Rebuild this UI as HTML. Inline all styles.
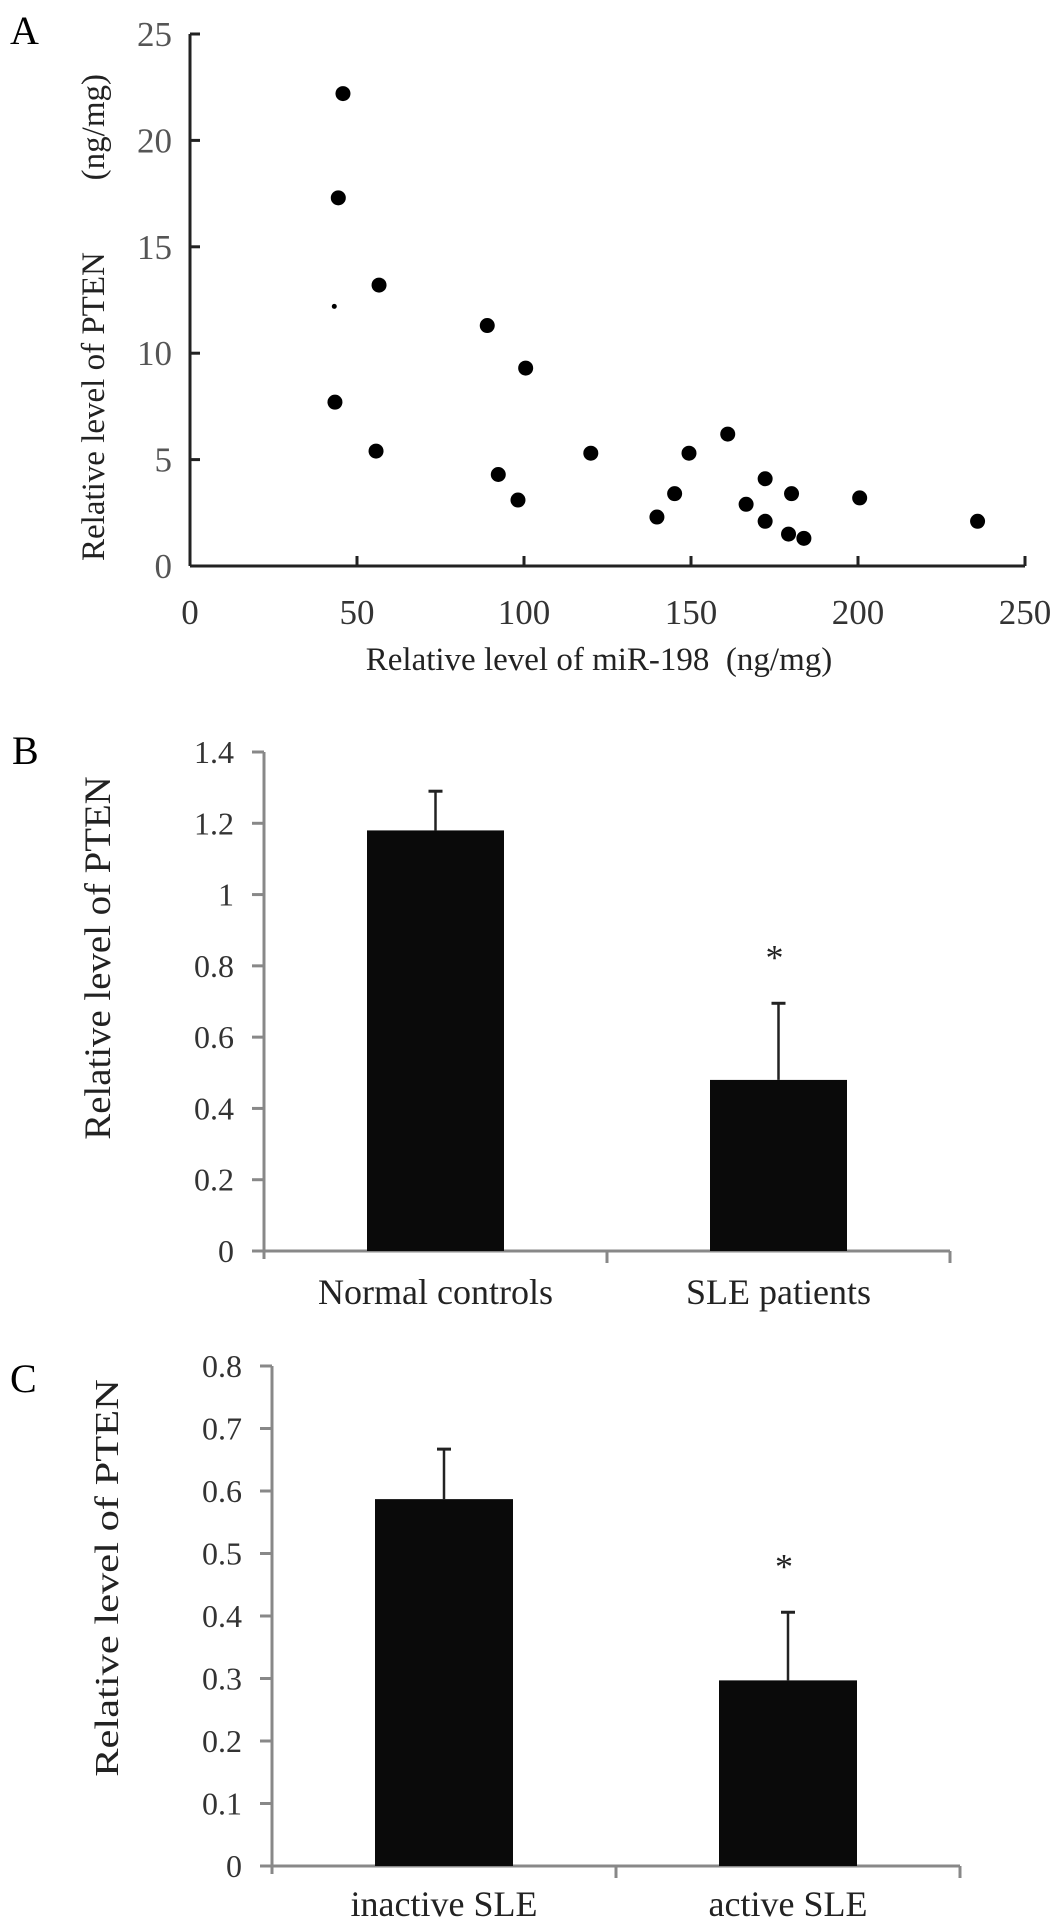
<!DOCTYPE html>
<html><head><meta charset="utf-8"><style>
html,body{margin:0;padding:0;background:#fff;}
svg{display:block;font-family:"Liberation Serif",serif;}
</style></head><body>
<svg id="fig" width="1063" height="1928" viewBox="0 0 1063 1928">
<text x="10" y="44" font-size="40">A</text>
<text x="12" y="764" font-size="40">B</text>
<text x="10" y="1392" font-size="40">C</text>
<g id="gA"></g>
<g id="gB"></g>
<g id="gC"></g>
</svg>
<script>
// Panel A data
const scatterX = [45.8,44.4,56.6,43.4,55.7,89,100.5,92.3,98.2,120,149.4,161,145.1,139.8,166.5,172.2,172.2,180.1,179.2,183.8,200.5,235.8];
const scatterY = [22.2,17.3,13.2,7.7,5.4,11.3,9.3,4.3,3.1,5.3,5.3,6.2,3.4,2.3,2.9,4.1,2.1,3.4,1.5,1.3,3.2,2.1];
const smallX = [43.2];
const smallY = [12.2];
const aXTicks = [0,50,100,150,200,250];
const aYTicks = [0,5,10,15,20,25];
// Panel B data
const bCategories = ["Normal controls","SLE patients"];
const bValues = [1.18,0.48];
const bErrors = [1.29,0.695];
const bYTicks = ["0","0.2","0.4","0.6","0.8","1","1.2","1.4"];
const bStars = [false,true];
// Panel C data
const cCategories = ["inactive SLE","active SLE"];
const cValues = [0.587,0.297];
const cErrors = [0.667,0.406];
const cYTicks = ["0","0.1","0.2","0.3","0.4","0.5","0.6","0.7","0.8"];
const cStars = [false,true];

const NS="http://www.w3.org/2000/svg";
function mk(parent,tag,attrs,text){const e=document.createElementNS(NS,tag);for(const k in attrs)e.setAttribute(k,attrs[k]);if(text!==undefined)e.textContent=text;parent.appendChild(e);return e;}

// ---- Panel A ----
(function(){
  const g=document.getElementById('gA');
  const x0=190,x1=1025,y0=566,y1=34;
  const sx=v=>x0+(v-0)/(250-0)*(x1-x0);
  const sy=v=>y0-(v-0)/(25-0)*(y0-y1);
  let l=mk(g,'line',{x1:x0,y1:y1,x2:x0,y2:y0,stroke:'#222','stroke-width':3});
  
  
  l=mk(g,'line',{x1:x0,y1:y0,x2:x1,y2:y0,stroke:'#222','stroke-width':3});
  
  
  aYTicks.forEach(v=>{
    const t=mk(g,'line',{x1:x0,y1:sy(v),x2:x0+10,y2:sy(v),stroke:'#222','stroke-width':3});
    
    
    const tx=mk(g,'text',{x:172,y:sy(v)+12,'font-size':35,'text-anchor':'end',fill:'#555'},String(v));
    
    
  });
  aXTicks.forEach(v=>{
    const t=mk(g,'line',{x1:sx(v),y1:y0,x2:sx(v),y2:y0-10,stroke:'#222','stroke-width':3});
    
    
    const tx=mk(g,'text',{x:sx(v),y:624,'font-size':35,'text-anchor':'middle',fill:'#333'},String(v));
    
    
  });
  scatterX.forEach((v,i)=>{
    const c=mk(g,'circle',{cx:sx(v),cy:sy(scatterY[i]),r:7.5,fill:'#000'});
    
    
  });
  smallX.forEach((v,i)=>{
    const c=mk(g,'circle',{cx:sx(v),cy:sy(smallY[i]),r:2.5,fill:'#000'});
    
    
  });
  let tt=mk(g,'text',{x:599,y:670,'font-size':33,'text-anchor':'middle',fill:'#222'},'Relative level of miR-198\u00a0\u00a0(ng/mg)');
  
  
  tt=mk(g,'text',{x:0,y:0,'font-size':33,'text-anchor':'start',fill:'#222',transform:'translate(104,561) rotate(-90)'},'Relative level of PTEN');
  
  
  tt=mk(g,'text',{x:0,y:0,'font-size':33,'text-anchor':'end',fill:'#222',transform:'translate(104,74) rotate(-90)'},'(ng/mg)');
  
  
})();

// ---- Bar panels ----
function barPanel(id,prefix,cats,vals,errs,ticks,stars,cfg){
  const g=document.getElementById(id);
  const {ax,ay0,ay1,xEnd,ymax,barW,fs,cfs,labelY,titleX,titleY,titleSize,titleStretch}=cfg;
  const sy=v=>ay0-v/ymax*(ay0-ay1);
  const slot=(xEnd-ax)/cats.length;
  let l=mk(g,'line',{x1:ax,y1:ay1,x2:ax,y2:ay0+8,stroke:'#888','stroke-width':3});
  
  
  l=mk(g,'line',{x1:ax-12,y1:ay0,x2:xEnd,y2:ay0,stroke:'#888','stroke-width':3});
  
  
  ticks.forEach(t=>{
    const v=parseFloat(t);
    const tk=mk(g,'line',{x1:ax-12,y1:sy(v),x2:ax,y2:sy(v),stroke:'#888','stroke-width':3});
    
    
    const tx=mk(g,'text',{x:ax-30,y:sy(v)+11,'font-size':fs,'text-anchor':'end',fill:'#333'},t);
    
    
  });
  for(let i=1;i<=cats.length;i++){
    const tk=mk(g,'line',{x1:ax+slot*i,y1:ay0,x2:ax+slot*i,y2:ay0+12,stroke:'#888','stroke-width':3});
    
    
  }
  cats.forEach((c,i)=>{
    const cx=ax+slot*(i+0.5);
    const e=mk(g,'line',{x1:cx,y1:sy(errs[i]),x2:cx,y2:sy(vals[i]),stroke:'#222','stroke-width':2.5});
    
    
    const cap=mk(g,'line',{x1:cx-7,y1:sy(errs[i]),x2:cx+7,y2:sy(errs[i]),stroke:'#222','stroke-width':3});
    
    
    const r=mk(g,'rect',{x:cx-barW/2,y:sy(vals[i]),width:barW,height:ay0-sy(vals[i]),fill:'#0a0a0a'});
    
    
    const lb=mk(g,'text',{x:cx,y:labelY,'font-size':cfs,'text-anchor':'middle',fill:'#222'},c);
    
    
    if(stars[i]){
      const s=mk(g,'text',{x:cx-4,y:sy(errs[i])-34,'font-size':36,'text-anchor':'middle',fill:'#222'},'*');
      
      
    }
  });
  const tt=mk(g,'text',{x:0,y:0,'font-size':titleSize,'text-anchor':'middle',fill:'#222',transform:`translate(${titleX},${titleY}) rotate(-90) scale(${titleStretch},1)`},'Relative level of PTEN');
  
  
}
barPanel('gB','b',bCategories,bValues,bErrors,bYTicks,bStars,
  {ax:264,ay0:1251,ay1:752,xEnd:950,ymax:1.4,barW:137,fs:32,cfs:36,labelY:1304,titleX:110,titleY:958,titleSize:37,titleStretch:1.05});
barPanel('gC','c',cCategories,cValues,cErrors,cYTicks,cStars,
  {ax:272,ay0:1866,ay1:1366,xEnd:960,ymax:0.8,barW:138,fs:32,cfs:36,labelY:1916,titleX:118,titleY:1578,titleSize:34,titleStretch:1.25});
</script>
</body></html>
